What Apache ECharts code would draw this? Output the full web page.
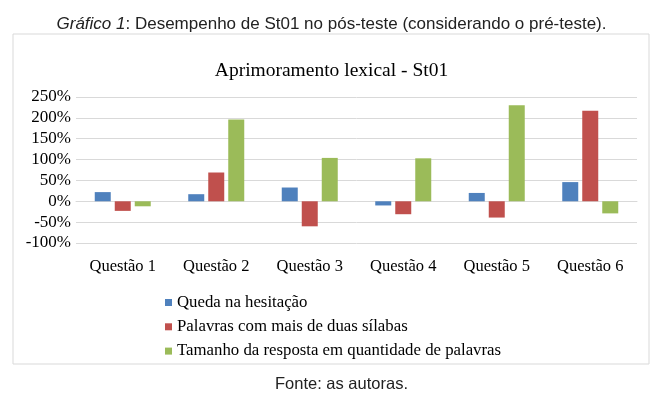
<!DOCTYPE html>
<html>
<head>
<meta charset="utf-8">
<script src="https://cdn.jsdelivr.net/npm/echarts@6/dist/echarts.min.js"></script>
<style>
  html, body { margin: 0; padding: 0; background: #fff; }
  #chart { width: 663px; height: 396px; }
</style>
</head>
<body>
<div id="chart"></div>
<script>
// values, in percent
var questions = ['Questão 1', 'Questão 2', 'Questão 3', 'Questão 4', 'Questão 5', 'Questão 6'];
var hesitacao = [22, 17, 33, -10, 20, 46];
var silabas = [-23, 69, -60, -31, -39, 217];
var tamanho = [-12, 196, 104, 103, 230, -29];
var series_names = ['Queda na hesitação', 'Palavras com mais de duas sílabas', 'Tamanho da resposta em quantidade de palavras'];

var serif = '"Liberation Serif", "DejaVu Serif", serif';
var sans = '"Liberation Sans", Arial, sans-serif';

var chart_div = echarts.init(document.getElementById('chart'));
var option = {
  color: ['#4F81BD', '#C0504D', '#9BBB59'],
  animation: false,
  title: [
    {
      text: '{i|Gráfico 1}: Desempenho de St01 no pós-teste (considerando o pré-teste).',
      left: 'center',
      top: 11,
      textStyle: {
        fontFamily: sans, fontSize: 17, fontWeight: 'normal', color: '#222',
        rich: { i: { fontFamily: sans, fontSize: 17, fontStyle: 'italic', color: '#222' } }
      }
    },
    {
      text: 'Aprimoramento lexical - St01',
      left: 'center',
      top: 56,
      textStyle: { fontFamily: serif, fontSize: 19.5, fontWeight: 'normal', color: '#000' }
    },
    {
      text: 'Fonte: as autoras.',
      left: 270,
      top: 371,
      textStyle: { fontFamily: sans, fontSize: 16.5, fontWeight: 'normal', color: '#222' }
    }
  ],
  graphic: [{
    type: 'rect',
    shape: { x: 13, y: 34, width: 636, height: 330 },
    style: { fill: 'none', stroke: '#d9d9d9', lineWidth: 1 },
    silent: true
  }],
  legend: {
    data: series_names,
    orient: 'vertical',
    left: 160,
    top: 289,
    itemWidth: 7,
    itemHeight: 7,
    itemGap: 7.3,
    icon: 'rect',
    textStyle: { fontFamily: serif, fontSize: 16.8, color: '#000', lineHeight: 15 }
  },
  grid: { left: 76, right: 26, top: 97, bottom: 153 },
  xAxis: {
    type: 'category',
    data: questions,
    axisLine: { onZero: true, lineStyle: { color: '#d9d9d9' } },
    axisTick: { show: false },
    axisLabel: { fontFamily: serif, fontSize: 16.5, color: '#000', margin: 15 }
  },
  yAxis: {
    type: 'value',
    min: -100,
    max: 250,
    interval: 50,
    axisLine: { show: false },
    axisTick: { show: false },
    axisLabel: { formatter: '{value}%', fontFamily: serif, fontSize: 17, color: '#000', margin: 5 },
    splitLine: { lineStyle: { color: '#d9d9d9' } }
  },
  series: [
    { name: series_names[0], type: 'bar', data: hesitacao, barWidth: 16, barGap: '25%' },
    { name: series_names[1], type: 'bar', data: silabas, barWidth: 16, barGap: '25%' },
    { name: series_names[2], type: 'bar', data: tamanho, barWidth: 16, barGap: '25%' }
  ]
};
chart_div.setOption(option);
</script>
</body>
</html>
